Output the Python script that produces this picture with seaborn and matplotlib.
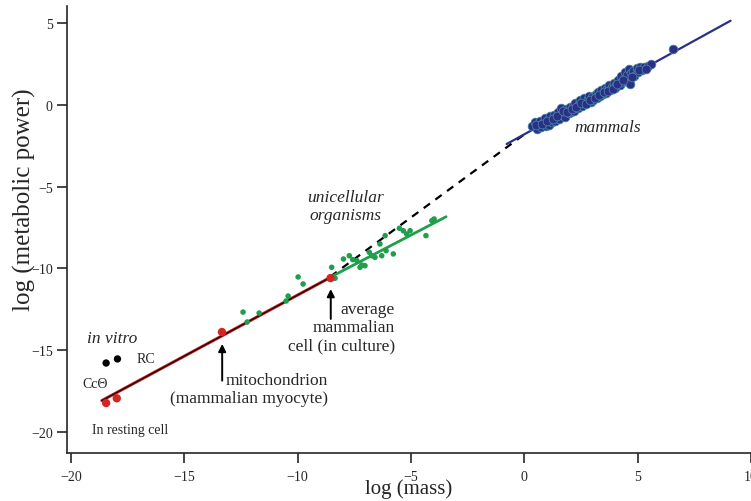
import matplotlib
matplotlib.use("Agg")
import matplotlib.pyplot as plt
import seaborn as sns

# ---------------- data ----------------
# mammals (log mass, log metabolic power)
mammal_x = [0.35, 0.45, 0.55, 0.60, 0.70, 0.75, 0.85, 0.90, 0.95, 1.05, 1.10, 1.15,
            1.20, 1.30, 1.35, 1.40, 1.50, 1.55, 1.60, 1.65, 1.75, 1.80, 1.85, 1.95,
            2.00, 2.05, 2.15, 2.20, 2.25, 2.35, 2.40, 2.45, 2.55, 2.60, 2.65, 2.75,
            2.80, 2.85, 2.95, 3.00, 3.05, 3.15, 3.20, 3.25, 3.35, 3.40, 3.45, 3.55,
            3.60, 3.65, 3.75, 3.80, 3.85, 3.95, 4.00, 4.05, 4.15, 4.20, 4.25, 4.30,
            4.40, 4.45, 4.50, 4.55, 4.60, 4.65, 4.70, 4.80, 4.85, 4.95, 5.00, 5.10,
            5.20, 5.30, 5.45, 5.60, 6.55,
            0.50, 0.80, 1.00, 1.25, 1.45, 1.70, 1.90, 2.10, 2.30, 2.50, 2.70, 2.90,
            3.10, 3.30, 3.50, 3.70, 3.90, 4.10, 4.35, 4.75, 5.05, 5.35]
mammal_y = [-1.30, -1.05, -1.45, -1.15, -0.95, -1.35, -1.05, -0.80, -1.30, -0.90, -1.20, -0.70,
            -1.05, -0.60, -0.95, -0.75, -0.45, -0.85, -0.20, -0.60, -0.40, -0.75, -0.25, -0.50,
            -0.15, -0.40, -0.05, -0.35, 0.10, -0.20, 0.05, 0.30, -0.05, 0.25, 0.45, 0.10,
            0.35, 0.55, 0.20, 0.50, 0.30, 0.65, 0.40, 0.80, 0.55, 0.90, 0.70, 1.05,
            0.75, 0.95, 1.20, 0.90, 1.10, 1.35, 1.05, 1.25, 1.50, 1.20, 1.75, 1.40,
            1.60, 2.05, 1.45, 1.85, 2.20, 1.30, 1.95, 2.10, 1.80, 2.25, 2.00, 2.30,
            2.15, 2.35, 2.40, 2.50, 3.43,
            -1.20, -1.15, -1.00, -0.85, -0.65, -0.35, -0.45, -0.25, -0.10, 0.15, 0.05, 0.30,
            0.45, 0.60, 0.80, 0.85, 1.00, 1.30, 1.55, 1.70, 2.15, 2.20]

# unicellular organisms
uni_x = [-12.41, -12.23, -11.70, -10.51, -10.42, -9.98, -9.76, -8.50, -8.35, -7.98,
         -7.72, -7.57, -7.39, -7.17, -7.25, -7.03, -6.84, -6.73, -6.59, -6.37,
         -6.29, -6.14, -6.10, -5.78, -5.51, -5.34, -5.19, -5.04, -4.34, -4.08, -3.98]
uni_y = [-12.68, -13.29, -12.74, -12.00, -11.70, -10.53, -10.96, -9.94, -10.61, -9.43,
         -9.23, -9.47, -9.53, -9.80, -9.94, -9.84, -9.02, -9.23, -9.33, -8.51,
         -9.23, -8.00, -8.92, -9.12, -7.55, -7.70, -7.90, -7.70, -8.00, -7.08, -6.98]

# cells / mitochondria / resting cell (red)
cell_x = [-18.45, -17.98, -13.34, -8.55]
cell_y = [-18.25, -17.96, -13.90, -10.60]

# in vitro (black)
vitro_x = [-18.45, -17.95]
vitro_y = [-15.80, -15.55]

# fitted lines (end points)
mam_fit_x = [-0.78, 9.10]
mam_fit_y = [-2.39, 5.16]
cell_fit_x = [-18.64, -8.52]
cell_fit_y = [-18.10, -10.53]
uni_fit_x = [-8.50, -3.45]
uni_fit_y = [-10.50, -6.84]
dash_x = [-8.55, -0.05]
dash_y = [-10.50, -1.85]

x_ticks = [-20, -15, -10, -5, 0, 5, 10]
y_ticks = [-20, -15, -10, -5, 0, 5]

# ---------------- style ----------------
sns.set_style("ticks")
plt.rcParams["font.family"] = ["Liberation Serif", "DejaVu Serif"]

NAVY = "#2b3087"
GREEN = "#1f9e4c"
RED = "#d42424"

fig = plt.figure(figsize=(7.51, 5.02), dpi=100)
ax = fig.add_axes([0.0888, 0.0956, 0.9112, 0.8904])

# lines
sns.lineplot(x=cell_fit_x, y=cell_fit_y, ax=ax, color=RED, lw=2.2, sort=False)
sns.lineplot(x=cell_fit_x, y=cell_fit_y, ax=ax, color="#1a0808", lw=1.0, sort=False)
sns.lineplot(x=dash_x, y=dash_y, ax=ax, color="black", lw=1.6, sort=False,
             linestyle=(0, (3.5, 3.0)))
sns.lineplot(x=uni_fit_x, y=uni_fit_y, ax=ax, color=GREEN, lw=2.0, sort=False)
sns.lineplot(x=mam_fit_x, y=mam_fit_y, ax=ax, color=NAVY, lw=1.6, sort=False)

# points
sns.scatterplot(x=mammal_x, y=mammal_y, ax=ax, s=40, color=NAVY,
                edgecolor="#4a8fa3", linewidth=0.5, zorder=3)
sns.scatterplot(x=uni_x, y=uni_y, ax=ax, s=16, color=GREEN, edgecolor="none", zorder=3)
sns.scatterplot(x=cell_x, y=cell_y, ax=ax, s=36, color=RED, edgecolor="none", zorder=4)
sns.scatterplot(x=vitro_x, y=vitro_y, ax=ax, s=28, color="black", edgecolor="none", zorder=4)

# annotations
ax.text(3.69, -1.35, "mammals", style="italic", fontsize=12.5, ha="center", va="center")
ax.text(-7.91, -6.18, "unicellular\norganisms", style="italic", fontsize=12.5,
        ha="center", va="center", linespacing=1.15)
ax.text(-18.2, -14.29, "in vitro", style="italic", fontsize=12.5, ha="center", va="center")
ax.text(-16.69, -15.55, "RC", fontsize=10, ha="center", va="center")
ax.text(-18.94, -17.08, "CcΘ", fontsize=10, ha="center", va="center")
ax.text(-17.39, -19.88, "In resting cell", fontsize=10, ha="center", va="center")
ax.text(-8.66, -17.39, "mitochondrion\n(mammalian myocyte)", fontsize=12.5,
        ha="right", va="center", multialignment="right", linespacing=1.15)
ax.text(-5.71, -13.6, "average\nmammalian\ncell (in culture)", fontsize=12.5,
        ha="right", va="center", multialignment="right", linespacing=1.15)

arrow = dict(arrowstyle="-|>", color="black", lw=1.4, mutation_scale=11,
             shrinkA=0, shrinkB=0)
ax.annotate("", xy=(-13.33, -14.63), xytext=(-13.33, -16.88), arrowprops=arrow)
ax.annotate("", xy=(-8.54, -11.27), xytext=(-8.54, -13.10), arrowprops=arrow)

# axes
ax.set_xlim(-20.19, 10.0)
ax.set_ylim(-21.31, 6.06)
ax.set_xticks(x_ticks)
ax.set_yticks(y_ticks)
ax.tick_params(axis="both", direction="out", length=7, width=1.2, labelsize=10)
ax.tick_params(axis="x", pad=5)
ax.tick_params(axis="y", pad=3)
for sp in ["left", "bottom"]:
    ax.spines[sp].set_linewidth(1.2)
sns.despine(ax=ax)
ax.set_xlabel("log (mass)", fontsize=15, labelpad=-3)
ax.set_ylabel("log (metabolic power)", fontsize=18)
ax.yaxis.set_label_coords(-0.045, 0.568)

fig.savefig("out.png", dpi=100)
